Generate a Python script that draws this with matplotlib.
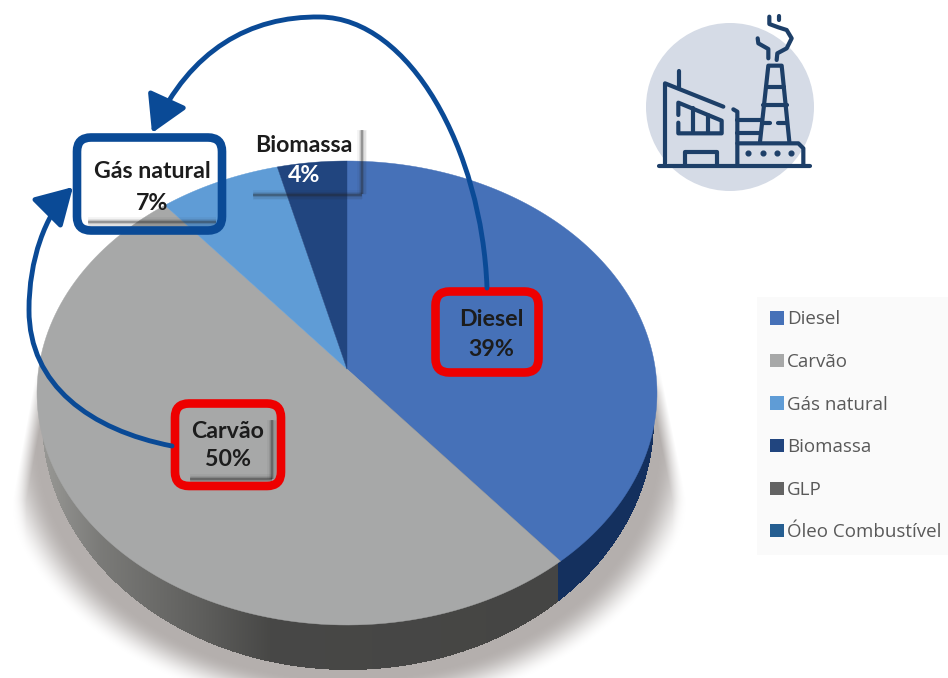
import numpy as np
import matplotlib
matplotlib.use('Agg')
import matplotlib.pyplot as plt
from matplotlib.patches import Circle, FancyBboxPatch, FancyArrowPatch, Patch, Polygon
from matplotlib.path import Path

categories = ['Diesel', 'Carvão', 'Gás natural', 'Biomassa', 'GLP', 'Óleo Combustível']
shares = [39, 50, 7, 4, 0, 0]
colors = ['#4671b8', '#a7a8a8', '#5f9cd6', '#21457f', '#636363', '#255e91']

NAVY = '#0a4a96'
RED = '#ee0000'
ICON = '#1d3f68'

# Pie geometry in pixels (axes run in image pixels)
CX, CY, RX, RY = 347, 393, 310, 232
H = -0.103
# Outline of the base, narrower than the top so the wall tapers out at the sides
BASE_CX, BASE_CY, BASE_RX, BASE_RY = 348, 420, 306, 250

fig = plt.figure(figsize=(9.48, 6.78), dpi=100)
ax = fig.add_axes([0, 0, 1, 1])
ax.set_xlim(0, 948)
ax.set_ylim(678, 0)
ax.axis('off')


def project(frac, r=1.0):
    # clockwise from the top, tilted so the apex sits above the ellipse centre
    t = 2 * np.pi * np.asarray(frac)
    x, y = r * np.sin(t), -r * np.cos(t)
    d = 1 + H * y
    return CX + RX * x * np.sqrt(1 - H ** 2) / d, CY + RY * (y + H) / d


# Soft shadow under the pie
gx, gy = np.meshgrid(np.arange(0, 948), np.arange(0, 678))
dist = np.sqrt(((gx - 348) / 356) ** 2 + ((gy - 440) / 274) ** 2)
soft = np.clip((1 - dist) / 0.13, 0, 1)
soft = soft * soft * (3 - 2 * soft)
left_edge = np.interp(gy, [370, 500], [36, 12])
right_edge = np.interp(gy, [370, 500], [660, 686])
soft = soft * np.clip((gx - left_edge) / 14, 0, 1) * np.clip((right_edge - gx) / 14, 0, 1)
soft = soft * np.clip((gy - 362) / 30, 0, 1)
shadow = np.zeros(gx.shape + (4,))
shadow[..., :3] = matplotlib.colors.to_rgb('#b4afad')
shadow[..., 3] = soft
ax.imshow(shadow, extent=(0, 948, 678, 0), zorder=1, aspect='auto', interpolation='nearest')
ax.set_xlim(0, 948)
ax.set_ylim(678, 0)

# Wall, drawn as thin columns down to the base outline
total = sum(shares)
edges = np.cumsum([0] + shares) / total
split_x = project(edges[1])[0] - 2
wall_x = np.arange(BASE_CX - BASE_RX + 0.5, BASE_CX + BASE_RX, 1.0)
wall_bottom = BASE_CY + BASE_RY * np.sqrt(1 - ((wall_x - BASE_CX) / BASE_RX) ** 2)
for x, yb in zip(wall_x, wall_bottom):
    if x > split_x:
        wc = '#14305e'
    else:
        g = np.interp(x, [40, 100, 200, 270, 560], [0.6, 0.48, 0.37, 0.28, 0.27])
        wc = (g, g, g * 0.98)
    ax.fill_between([x - 0.6, x + 0.6], CY, yb, color=wc, lw=0, zorder=2)

# Top of the pie, built from the shares
for i, name in enumerate(categories):
    if shares[i] == 0:
        continue
    fr = np.linspace(edges[i], edges[i + 1], 120)
    px, py = project(fr)
    ax0, ay0 = project(0.0, 0.0)
    pts = [(ax0, ay0)] + list(zip(px, py))
    ax.add_patch(Polygon(pts, closed=True, fc=colors[i], ec=colors[i], lw=0.3, zorder=3))


# Label shadows
def soft_line(xs, ys, z=4):
    for w, a in [(7, 0.05), (5, 0.08), (3, 0.14), (1.5, 0.3)]:
        ax.plot(xs, ys, color='#222222', lw=w, alpha=a, zorder=z, solid_capstyle='butt')


soft_line([362, 362], [130, 194])
soft_line([253, 362], [195, 195])
soft_line([88, 216], [222, 222])
soft_line([190, 272], [479, 479])
soft_line([272, 272], [420, 479])

# Data labels
labels = [('Gás natural', 2, 152, 172, 203, 'black'),
          ('Biomassa', 3, 304, 146, 176, 'white'),
          ('Diesel', 0, 491, 320, 350, 'black'),
          ('Carvão', 1, 228, 431, 460, 'black')]
for name, idx, tx, y1, y2, pct_col in labels:
    ax.text(tx, y1, name, ha='center', va='center', family='Lato', weight='bold',
            fontsize=16.7, color='#1c1c1c', zorder=6)
    ax.text(tx, y2, f'{shares[idx]}%', ha='center', va='center', family='Lato', weight='bold',
            fontsize=16.7, color=pct_col if pct_col == 'white' else '#1c1c1c', zorder=6)

# Highlight boxes
boxes = [(77, 137.5, 145, 93, NAVY), (435.5, 291.5, 103, 81, RED), (175, 403.5, 106, 82.5, RED)]
for bx, by, bw, bh, col in boxes:
    ax.add_patch(FancyBboxPatch((bx + 14, by + 14), bw - 28, bh - 28,
                                boxstyle='round,pad=14,rounding_size=14',
                                fc='none', ec=col, lw=6.2, zorder=7))

# Curved arrows
arrow1 = Path([(487, 288), (482, 150), (410, 18), (320, 17), (250, 16), (190, 50), (152, 133)],
              [Path.MOVETO] + [Path.CURVE4] * 6)
arrow2 = Path([(172, 446), (90, 430), (29, 385), (29, 310), (29, 260), (45, 215), (73, 187)],
              [Path.MOVETO] + [Path.CURVE4] * 6)
for p in (arrow1, arrow2):
    ax.add_patch(FancyArrowPatch(path=p, arrowstyle='-|>,head_length=0.62,head_width=0.36',
                                 mutation_scale=36, color=NAVY, lw=3.5, zorder=8,
                                 shrinkA=0, shrinkB=0))

# Factory icon
ax.add_patch(Circle((730, 107), 84, fc='#d5dbe6', ec='none', zorder=1))


def iz(points):
    pts = np.array(points, dtype=float)
    return pts[:, 0] / 3 + 630, pts[:, 1] / 3


icon_lines = [
    [(88, 497), (540, 497)],
    [(105, 497), (105, 250), (280, 320)],
    [(148, 212), (148, 265)],
    [(310, 328), (322, 335), (322, 497)],
    [(145, 345), (145, 308), (275, 362), (275, 400), (145, 400), (145, 368)],
    [(190, 325), (190, 400)],
    [(235, 345), (235, 400)],
    [(165, 497), (165, 455), (260, 455), (260, 497)],
    [(322, 360), (395, 360)],
    [(322, 400), (390, 400)],
    [(390, 425), (415, 197), (455, 197), (478, 425)],
    [(408, 262), (462, 262)],
    [(398, 315), (470, 315)],
    [(395, 370), (420, 370)],
    [(445, 370), (472, 370)],
    [(322, 430), (505, 430), (520, 445), (520, 497)],
    [(448, 48), (448, 60)],
    [(418, 50), (418, 72), (445, 82), (470, 90), (485, 115), (470, 145), (442, 160), (440, 180)],
    [(383, 115), (385, 130), (415, 147), (415, 175)],
]
for seg in icon_lines:
    xs, ys = iz(seg)
    ax.plot(xs, ys, color=ICON, lw=3, solid_capstyle='round', solid_joinstyle='round', zorder=3)
dx, dy = iz([(355, 458), (398, 458), (440, 458), (483, 458)])
ax.plot(dx, dy, 'o', color=ICON, ms=3.4, zorder=3)

# Legend
handles = [Patch(fc=c, ec='none', label=n) for c, n in zip(colors, categories)]
leg = ax.legend(handles=handles, loc='upper left', bbox_to_anchor=(757, 297),
                bbox_transform=ax.transData, frameon=True, facecolor='#fafafa', edgecolor='none',
                fancybox=False, framealpha=1, prop={'family': 'Open Sans', 'size': 13.5},
                labelcolor='#595959', handlelength=0.72, handleheight=0.72, handletextpad=0.16,
                labelspacing=1.31, borderaxespad=0, borderpad=0.72)
leg.set_zorder(5)

fig.savefig('out.png', dpi=100)
